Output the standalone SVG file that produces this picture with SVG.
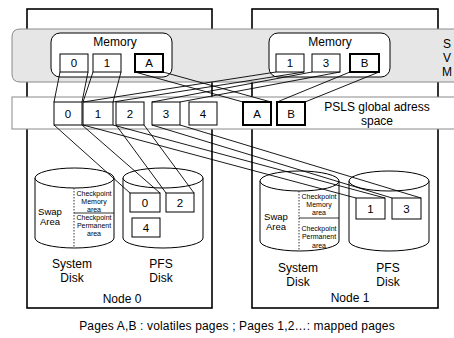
<svg xmlns="http://www.w3.org/2000/svg" width="454" height="338" viewBox="0 0 454 338">
<style>
text{font-family:"Liberation Sans",Arial,sans-serif;fill:#000}
.node{fill:#fff;stroke:#000;stroke-width:1.6}
.page{fill:#fff;stroke:#000;stroke-width:1}
.vol{fill:#fff;stroke:#000;stroke-width:2}
.mem{fill:#fff;stroke:#000;stroke-width:1}
.cyl{fill:#fff;stroke:#000;stroke-width:1}
.c{font-size:12px;text-anchor:middle}
.n{font-size:11.5px;text-anchor:middle}
.s{font-size:7px;text-anchor:middle}
.sw{font-size:9.5px;text-anchor:middle}
.conn line{stroke:#000;stroke-width:0.9}
</style>
<g id="node0"><rect class="node" x="27" y="9" width="185" height="299"/></g>
<g id="node1"><rect class="node" x="252" y="9" width="186" height="299"/></g>
<g id="svm">
<path d="M20,29 H460 V82 H20 Q12,82 12,74 V37 Q12,29 20,29 Z" fill="#e6e6e6" stroke="#8a8a8a" stroke-width="1"/>
<text class="c" x="447" y="48">S</text>
<text class="c" x="447" y="62">V</text>
<text class="c" x="447" y="76">M</text>
</g>
<g id="psls">
<rect x="12" y="97" width="450" height="32" fill="#fff" stroke="#8a8a8a" stroke-width="1"/>
<text class="c" x="377" y="111">PSLS global adress</text>
<text class="c" x="377" y="125">space</text>
</g>
<g id="memory0">
<rect class="mem" x="51" y="33" width="121" height="44" rx="9"/>
<text class="c" x="115" y="46">Memory</text>
<rect class="page" x="60" y="54" width="28" height="18"/><text class="n" x="74" y="67">0</text>
<rect class="page" x="93" y="54" width="28" height="18"/><text class="n" x="107" y="67">1</text>
<rect class="vol" x="135" y="54" width="28" height="18"/><text class="n" x="149" y="67">A</text>
</g>
<g id="memory1">
<rect class="mem" x="269" y="33" width="121" height="44" rx="9"/>
<text class="c" x="330" y="46">Memory</text>
<rect class="page" x="276" y="54" width="28" height="18"/><text class="n" x="290" y="67">1</text>
<rect class="page" x="312" y="54" width="28" height="18"/><text class="n" x="326" y="67">3</text>
<rect class="vol" x="350" y="54" width="29" height="18"/><text class="n" x="364.5" y="67">B</text>
</g>
<g id="psls-pages">
<rect class="page" x="54" y="102" width="28" height="23"/><text class="n" x="68" y="118">0</text>
<rect class="page" x="83" y="102" width="30" height="23"/><text class="n" x="98" y="118">1</text>
<rect class="page" x="116" y="102" width="28" height="23"/><text class="n" x="130" y="118">2</text>
<rect class="page" x="152" y="102" width="28" height="23"/><text class="n" x="166" y="118">3</text>
<rect class="page" x="189" y="102" width="28" height="23"/><text class="n" x="203" y="118">4</text>
<rect class="vol" x="243" y="102" width="28" height="23"/><text class="n" x="257" y="118">A</text>
<rect class="vol" x="277" y="102" width="28" height="23"/><text class="n" x="291" y="118">B</text>
</g>
<g id="sysdisk0">
<path class="cyl" d="M35,178 V238 A39.5,10 0 0 0 114,238 V178"/>
<ellipse class="cyl" cx="74.5" cy="178" rx="39.5" ry="10"/>
<line x1="74" y1="188" x2="74" y2="248" stroke="#000" stroke-width="0.8" stroke-dasharray="1.5,1.5"/>
<line x1="74" y1="213" x2="114" y2="213" stroke="#000" stroke-width="0.8"/>
<text class="sw" x="50" y="215">Swap</text>
<text class="sw" x="50" y="225">Area</text>
<text class="s" x="94" y="196">Checkpoint</text>
<text class="s" x="94" y="204">Memory</text>
<text class="s" x="94" y="212">area</text>
<text class="s" x="94" y="220">Checkpoint</text>
<text class="s" x="94" y="228">Permanent</text>
<text class="s" x="94" y="236">area</text>
<text class="c" x="72" y="268">System</text>
<text class="c" x="72" y="282">Disk</text>
</g>
<g id="pfsdisk0">
<path class="cyl" d="M123,178 V238 A40,10 0 0 0 203,238 V178"/>
<ellipse class="cyl" cx="163" cy="178" rx="40" ry="10"/>
<rect class="page" x="130" y="193" width="30" height="19"/><text class="n" x="145" y="207">0</text>
<rect class="page" x="166" y="193" width="28" height="19"/><text class="n" x="180" y="207">2</text>
<rect class="page" x="132" y="218" width="28" height="19"/><text class="n" x="146" y="232">4</text>
<text class="c" x="161" y="268">PFS</text>
<text class="c" x="161" y="282">Disk</text>
<text class="c" x="122" y="303">Node 0</text>
</g>
<g id="sysdisk1">
<path class="cyl" d="M260,181 V241 A39.5,10 0 0 0 339,241 V181"/>
<ellipse class="cyl" cx="299.5" cy="181" rx="39.5" ry="10"/>
<line x1="299" y1="191" x2="299" y2="251" stroke="#000" stroke-width="0.8" stroke-dasharray="1.5,1.5"/>
<line x1="299" y1="218" x2="339" y2="218" stroke="#000" stroke-width="0.8"/>
<text class="sw" x="276" y="220">Swap</text>
<text class="sw" x="276" y="230">Area</text>
<text class="s" x="319" y="199">Checkpoint</text>
<text class="s" x="319" y="207">Memory</text>
<text class="s" x="319" y="215">area</text>
<text class="s" x="319" y="231">Checkpoint</text>
<text class="s" x="319" y="239">Permanent</text>
<text class="s" x="319" y="248">area</text>
<text class="c" x="298" y="272">System</text>
<text class="c" x="298" y="286">Disk</text>
</g>
<g id="pfsdisk1">
<path class="cyl" d="M349,181 V241 A40,10 0 0 0 429,241 V181"/>
<ellipse class="cyl" cx="389" cy="181" rx="40" ry="10"/>
<rect class="page" x="356" y="198" width="29" height="21"/><text class="n" x="370.5" y="213">1</text>
<rect class="page" x="392" y="198" width="29" height="21"/><text class="n" x="406.5" y="213">3</text>
<text class="c" x="388" y="272">PFS</text>
<text class="c" x="388" y="286">Disk</text>
<text class="c" x="350" y="302">Node 1</text>
</g>
<g id="connectors" class="conn">
<line x1="60" y1="72" x2="54" y2="102"/>
<line x1="88" y1="72" x2="82" y2="102"/>
<line x1="93" y1="72" x2="83" y2="102"/>
<line x1="121" y1="72" x2="113" y2="102"/>
<line x1="135" y1="72" x2="243" y2="102"/>
<line x1="163" y1="72" x2="271" y2="102"/>
<line x1="276" y1="72" x2="83" y2="102"/>
<line x1="304" y1="72" x2="113" y2="102"/>
<line x1="312" y1="72" x2="152" y2="102"/>
<line x1="340" y1="72" x2="180" y2="102"/>
<line x1="350" y1="72" x2="277" y2="102"/>
<line x1="379" y1="72" x2="305" y2="102"/>
<line x1="54" y1="125" x2="130" y2="193"/>
<line x1="82" y1="125" x2="160" y2="193"/>
<line x1="116" y1="125" x2="166" y2="193"/>
<line x1="144" y1="125" x2="194" y2="193"/>
<line x1="83" y1="125" x2="356" y2="198"/>
<line x1="113" y1="125" x2="385" y2="198"/>
<line x1="152" y1="125" x2="392" y2="198"/>
<line x1="180" y1="125" x2="421" y2="198"/>
</g>
<text x="237" y="330" font-size="12" letter-spacing="0.15" text-anchor="middle">Pages A,B : volatiles pages ; Pages 1,2…: mapped pages</text>
</svg>
